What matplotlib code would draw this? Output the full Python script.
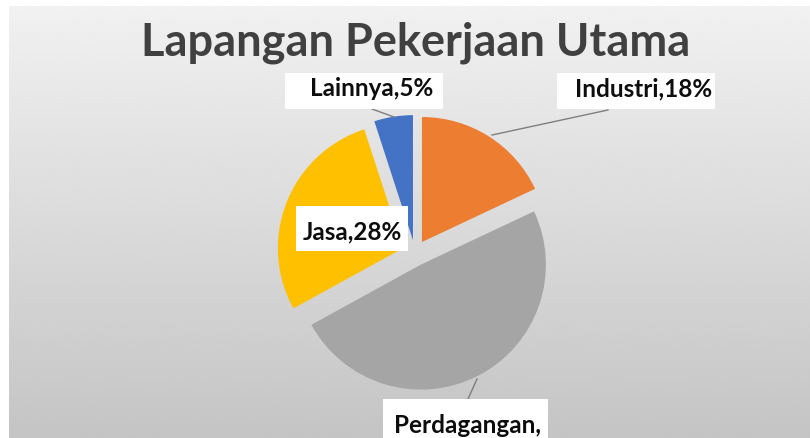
import matplotlib
matplotlib.use("Agg")
import matplotlib.pyplot as plt
from matplotlib.patches import Rectangle
import numpy as np

# ---- data ----
categories = ["Industri", "Perdagangan", "Jasa", "Lainnya"]
values = [18, 49, 28, 5]
colors = ["#ED7D31", "#A5A5A5", "#FFC000", "#4472C4"]
title = "Lapangan Pekerjaan Utama"

W, H = 810, 439
FONT = ["Lato", "DejaVu Sans"]

fig = plt.figure(figsize=(W / 100, H / 100), dpi=100, facecolor="white")
ax = fig.add_axes([0, 0, 1, 1])

def Y(y):
    return H - y

# background gradient (chart area)
grad = np.linspace(0.945, 0.77, 256).reshape(-1, 1)
grad = np.repeat(grad, 2, axis=1)
ax.imshow(grad, cmap="gray", vmin=0, vmax=1, extent=(9, W, Y(H), Y(7)),
          aspect="auto", zorder=0, interpolation="bicubic")

# pie (explode is in data units = pixels here)
cx, cy, r = 415, Y(254), 125
ax.pie(values, colors=colors, startangle=90, counterclock=False,
       explode=[13] * len(values), radius=r, center=(cx, cy),
       wedgeprops=dict(linewidth=0), frame=True)

ax.set_xlim(0, W)
ax.set_ylim(0, H)
ax.set_aspect("auto")
ax.axis("off")

# title, fitted to width
t = ax.text(416, Y(43), title, ha="center", va="center", fontsize=30,
            fontweight="bold", color="#404040", family=FONT, zorder=5)
fig.canvas.draw()
w = t.get_window_extent().width
t.set_fontsize(30 * 547 / w)

# label font size fitted to "Industri,18%" width
probe = ax.text(0, 0, f"{categories[0]},{values[0]}%", fontsize=14,
                fontweight="bold", family=FONT)
fig.canvas.draw()
lw = probe.get_window_extent().width
probe.remove()
lfs = 14 * 138 / lw

# leader lines
lc = "#7f7f7f"
ax.plot([608, 492], [Y(111), Y(136)], color=lc, lw=1, zorder=2)
ax.plot([372, 394], [Y(110), Y(118)], color=lc, lw=1, zorder=2)
ax.plot([477, 468], [Y(380), Y(400)], color=lc, lw=1, zorder=2)

# label boxes (image coords: x0, y0, x1, y1) and text centers
boxes = {
    "Industri": ((557, 74, 715, 110), (644, 89)),
    "Perdagangan": ((383, 400, 548, 470), (468, 426)),
    "Jasa": ((296, 207, 408, 252), (352, 232)),
    "Lainnya": ((285, 74, 443, 110), (372, 89)),
}
for cat, val in zip(categories, values):
    (x0, y0, x1, y1), (tx, ty) = boxes[cat]
    ax.add_patch(Rectangle((x0, Y(y1)), x1 - x0, y1 - y0, facecolor="white",
                           edgecolor="none", zorder=3))
    if cat == "Perdagangan":
        # second line of this label (the value) falls below the chart edge in the reference
        ax.text(tx, Y(ty), f"{cat},", ha="center", va="center", fontsize=lfs,
                fontweight="bold", color="#0d0d0d", family=FONT, zorder=4)
    else:
        ax.text(tx, Y(ty), f"{cat},{val}%", ha="center", va="center", fontsize=lfs,
                fontweight="bold", color="#0d0d0d", family=FONT, zorder=4)

fig.savefig("out.png", dpi=100, facecolor="white")
